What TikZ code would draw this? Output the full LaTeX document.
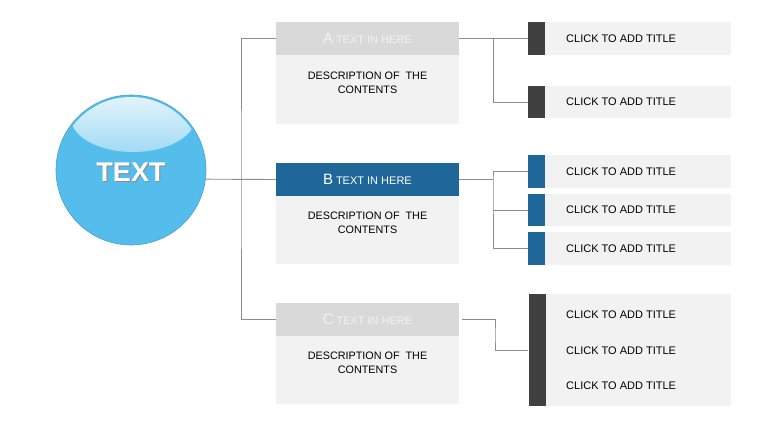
\documentclass[tikz,border=0pt]{standalone}
\usepackage{fontspec}
\setmainfont{Liberation Sans}
\usepackage{tikz}

\definecolor{ballblue}{HTML}{55BDEB}
\definecolor{headgray}{HTML}{D9D9D9}
\definecolor{bodygray}{HTML}{F2F2F2}
\definecolor{darkblue}{HTML}{1F6699}
\definecolor{bargray}{HTML}{404040}
\definecolor{linegray}{HTML}{8C8C8C}

\begin{document}
\begin{tikzpicture}[
    x=1pt, y=-1pt,
    head/.style={rectangle, fill=headgray, minimum width=183pt, minimum height=33pt, inner sep=0pt, text=bodygray},
    body/.style={rectangle, fill=bodygray, minimum width=183pt, minimum height=68pt, inner sep=0pt},
    desc/.style={align=center, font=\fontsize{10.8}{14}\selectfont, inner sep=0pt},
    bar/.style={rectangle, fill=bargray, minimum width=17pt, minimum height=33pt, inner sep=0pt},
    titlebox/.style={rectangle, fill=bodygray, minimum width=186pt, minimum height=33pt, inner sep=0pt},
    titletext/.style={anchor=west, font=\fontsize{11}{13}\selectfont, inner sep=0pt},
    link/.style={draw=linegray, line width=0.9pt}
  ]
    \useasboundingbox (0,0) rectangle (760,428);

    % Left - the ball
    \node[circle, fill=ballblue, draw=ballblue!85!black, line width=0.6pt, minimum size=150pt, inner sep=0pt] (ball) at (131,170) {};
    \begin{scope}
      \clip (131,170) circle (73pt);
      \shade[top color=white!92!ballblue, bottom color=white!45!ballblue] (133,118) ellipse (62pt and 34pt);
    \end{scope}
    \node[font=\fontsize{27}{30}\selectfont\bfseries, text=black!45] (ballshadow) at (132.2,173.2) {TEXT};
    \node[font=\fontsize{27}{30}\selectfont\bfseries, text=white] (balltext) at (131,172) {TEXT};

    % Middle column - A, B, C
    \node[head] (hA) at (367.5,38.5) {{\fontsize{15}{17}\selectfont A} {\fontsize{11}{13}\selectfont TEXT IN HERE}};
    \node[body, minimum height=69pt] (bA) at (367.5,89.5) {};
    \node[desc] (dA) at (367.5,83) {DESCRIPTION OF\ \ THE\\CONTENTS};

    \node[head, fill=darkblue, text=white] (hB) at (367.5,179.5) {{\fontsize{15}{17}\selectfont B} {\fontsize{11}{13}\selectfont TEXT IN HERE}};
    \node[body] (bB) at (367.5,230) {};
    \node[desc] (dB) at (367.5,223) {DESCRIPTION OF\ \ THE\\CONTENTS};

    \node[head] (hC) at (367.5,319.5) {{\fontsize{15}{17}\selectfont C} {\fontsize{11}{13}\selectfont TEXT IN HERE}};
    \node[body] (bC) at (367.5,370) {};
    \node[desc] (dC) at (367.5,363) {DESCRIPTION OF\ \ THE\\CONTENTS};

    % Right column - titles of A
    \node[bar] (barA1) at (536.5,38.5) {};
    \node[titlebox] (tA1) at (638,38.5) {};
    \node[titletext] (xA1) at (566,38.5) {CLICK TO ADD TITLE};
    \node[bar, minimum height=32pt] (barA2) at (536.5,102) {};
    \node[titlebox, minimum height=32pt] (tA2) at (638,102) {};
    \node[titletext] (xA2) at (566,102) {CLICK TO ADD TITLE};

    % Right column - titles of B
    \node[bar, fill=darkblue] (barB1) at (536.5,171.5) {};
    \node[titlebox] (tB1) at (638,171.5) {};
    \node[titletext] (xB1) at (566,171.5) {CLICK TO ADD TITLE};
    \node[bar, fill=darkblue, minimum height=32pt] (barB2) at (536.5,210) {};
    \node[titlebox, minimum height=32pt] (tB2) at (638,210) {};
    \node[titletext] (xB2) at (566,210) {CLICK TO ADD TITLE};
    \node[bar, fill=darkblue] (barB3) at (536.5,248.5) {};
    \node[titlebox] (tB3) at (638,248.5) {};
    \node[titletext] (xB3) at (566,248.5) {CLICK TO ADD TITLE};

    % Right column - titles of C
    \node[bar, minimum height=112pt] (barC) at (537,350) {};
    \node[titlebox, minimum width=185pt, minimum height=112pt] (tC) at (638.5,350) {};
    \node[titletext] (xC1) at (566,315) {CLICK TO ADD TITLE};
    \node[titletext] (xC2) at (566,351) {CLICK TO ADD TITLE};
    \node[titletext] (xC3) at (566,386) {CLICK TO ADD TITLE};

    % Junctions
    \coordinate (trunk) at (241,179.5);
    \coordinate (jA) at (493,38.5);
    \coordinate (jB) at (493,179.5);
    \coordinate (jC) at (495,335);

    % Connectors
    \draw[link] (ball.-7.28) -- (hB.west);
    \draw[link] (hA.west) -| (trunk) |- (hC.west);
    \draw[link] (hA.east) -- (barA1.west);
    \draw[link] (jA) |- (barA2.west);
    \draw[link] (hB.east) -- (jB);
    \draw[link] (barB1.west) -| (jB) |- (barB3.west);
    \draw[link] (jB |- barB2.west) -- (barB2.west);
    \draw[link] ([xshift=3pt]hC.east) -| (jC) |- (barC.west);

  \end{tikzpicture}
\end{document}
